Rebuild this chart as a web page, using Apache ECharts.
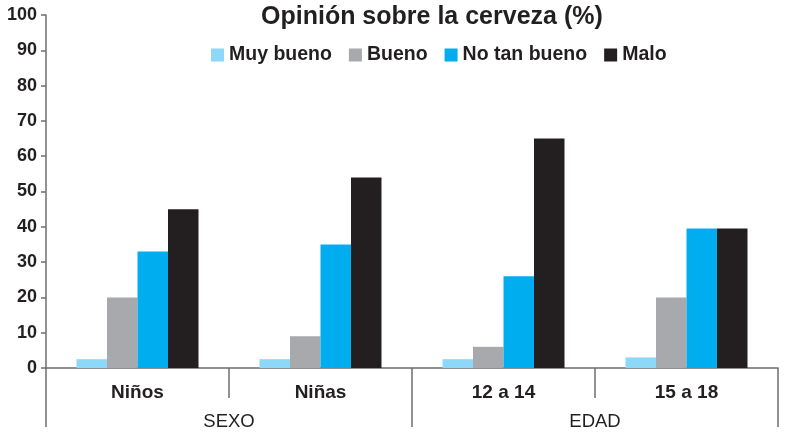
<!DOCTYPE html>
<html><head><meta charset="utf-8">
<script src="https://cdn.jsdelivr.net/npm/echarts@6/dist/echarts.min.js"></script>
<style>html,body{margin:0;padding:0;background:#fff}#c{width:794px;height:433px}</style>
</head><body><div id="c"></div>
<script>
const categories = ['Niños', 'Niñas', '12 a 14', '15 a 18'];
const groups = ['SEXO', 'EDAD'];
const seriesNames = ['Muy bueno', 'Bueno', 'No tan bueno', 'Malo'];
const muyBueno = [2.5, 2.5, 2.5, 3];
const bueno = [20, 9, 6, 20];
const noTanBueno = [33, 35, 26, 39.5];
const malo = [45, 54, 65, 39.5];
const yTicks = [0, 10, 20, 30, 40, 50, 60, 70, 80, 90, 100];
const colors = ['#8dd8f8', '#a7a9ac', '#00aeef', '#231f20'];
const values = [muyBueno, bueno, noTanBueno, malo];

const font = 'Liberation Sans, Arial, Helvetica, sans-serif';
const axisColor = '#6d6e71';
const textColor = '#231f20';

const chart = echarts.init(document.getElementById('c'), null, {renderer: 'canvas'});
chart.setOption({
  animation: false,
  title: {
    text: 'Opinión sobre la cerveza (%)',
    left: 256, top: 0,
    textStyle: {fontFamily: font, fontWeight: 'bold', fontSize: 25, color: textColor}
  },
  legend: {
    data: seriesNames,
    left: 206, top: 40,
    icon: 'rect',
    itemWidth: 13, itemHeight: 13, itemGap: 17,
    textStyle: {fontFamily: font, fontWeight: 'bold', fontSize: 19.5, color: textColor}
  },
  grid: {left: 46, right: 16, top: 15, bottom: 65, containLabel: false},
  xAxis: [
    {
      type: 'category', data: categories, gridIndex: 0, position: 'bottom',
      axisLine: {lineStyle: {color: axisColor, width: 1.5}},
      axisTick: {show: true, length: 30, interval: 0, lineStyle: {color: axisColor, width: 1.5}},
      axisLabel: {margin: 15, fontFamily: font, fontWeight: 'bold', fontSize: 19, color: textColor}
    },
    {
      type: 'category', data: groups, gridIndex: 0, position: 'bottom',
      axisLine: {show: false},
      axisTick: {show: true, length: 59, interval: 0, lineStyle: {color: axisColor, width: 1.5}},
      axisLabel: {margin: 44, fontFamily: font, fontSize: 18.5, color: textColor}
    }
  ],
  yAxis: {
    type: 'value', min: 0, max: 100, interval: 10,
    axisLine: {show: true, lineStyle: {color: axisColor, width: 1.5}},
    axisTick: {show: true, length: 5, lineStyle: {color: axisColor, width: 1.5}},
    splitLine: {show: false},
    axisLabel: {margin: 9, fontFamily: font, fontWeight: 'bold', fontSize: 18, color: textColor,
      formatter: v => yTicks.includes(v) ? String(v) : ''}
  },
  series: seriesNames.map((n, i) => ({
    name: n, type: 'bar', xAxisIndex: 0, data: values[i],
    barWidth: 30.5, barGap: '0%',
    itemStyle: {color: colors[i]}
  }))
});
</script></body></html>
